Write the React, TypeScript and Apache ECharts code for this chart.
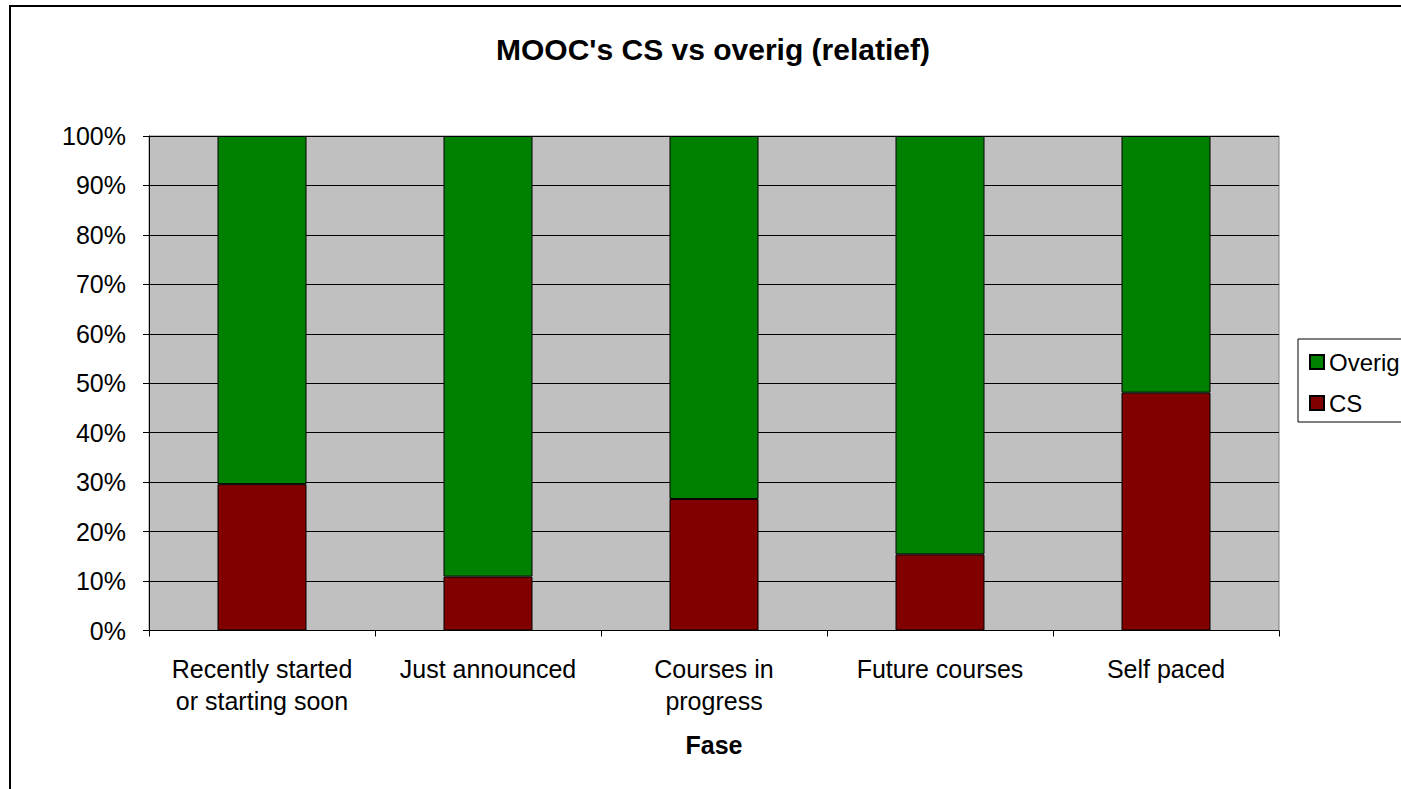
import React, { useEffect, useRef } from "react";
import * as echarts from "echarts";

const categories = [
  "Recently started\nor starting soon",
  "Just announced",
  "Courses in\nprogress",
  "Future courses",
  "Self paced",
];
const csValues = [29.6, 10.9, 26.6, 15.4, 48.1];
const overigValues = [70.4, 89.1, 73.4, 84.6, 51.9];
const titleText = "MOOC's CS vs overig (relatief)";
const xAxisName = "Fase";

const FONT = "'Liberation Sans', Arial, sans-serif";

export default function App() {
  const ref = useRef<HTMLDivElement>(null);
  useEffect(() => {
    if (!ref.current) return;
    const chart = echarts.init(ref.current, undefined, { renderer: "svg" });
    chart.setOption({
      animation: false,
      backgroundColor: "#ffffff",
      textStyle: { fontFamily: FONT, color: "#000" },
      graphic: [
        {
          type: "rect",
          shape: { x: 10, y: 6, width: 1420, height: 800 },
          style: { fill: "none", stroke: "#000", lineWidth: 2 },
          z: 100,
          silent: true,
        },
        {
          type: "text",
          x: 713,
          y: 49.5,
          style: {
            text: titleText,
            fontFamily: FONT,
            fontSize: 30,
            fontWeight: "bold",
            fill: "#000",
            align: "center",
            verticalAlign: "middle",
          },
        },
      ],
      legend: {
        orient: "vertical",
        left: 1298,
        top: 339,
        padding: [11, 30, 7, 11],
        itemGap: 17,
        itemWidth: 14,
        itemHeight: 14,
        icon: "rect",
        borderColor: "#000",
        borderWidth: 1,
        backgroundColor: "#fff",
        data: ["Overig", "CS"],
        textStyle: { fontFamily: FONT, fontSize: 24, color: "#000" },
      },
      grid: {
        left: 149,
        right: 122,
        top: 136,
        bottom: 158.5,
        show: true,
        backgroundColor: "#C0C0C0",
        borderColor: "#808080",
        borderWidth: 1,
        containLabel: false,
      },
      xAxis: {
        type: "category",
        data: categories,
        name: xAxisName,
        nameLocation: "middle",
        nameGap: 102,
        nameTextStyle: { fontFamily: FONT, fontSize: 25, fontWeight: "bold", color: "#000" },
        axisLine: { show: true, lineStyle: { color: "#000", width: 1 } },
        axisTick: { show: true, length: 6, inside: false, lineStyle: { color: "#000" } },
        axisLabel: {
          fontFamily: FONT,
          fontSize: 25,
          color: "#000",
          margin: 22,
          lineHeight: 32,
          interval: 0,
        },
      },
      yAxis: {
        type: "value",
        min: 0,
        max: 100,
        interval: 10,
        axisLine: { show: true, lineStyle: { color: "#000", width: 1 } },
        axisTick: { show: true, length: 6, inside: false, lineStyle: { color: "#000" } },
        splitLine: { show: true, lineStyle: { color: "#000", width: 1 } },
        axisLabel: {
          fontFamily: FONT,
          fontSize: 25,
          color: "#000",
          margin: 23,
          formatter: "{value}%",
        },
      },
      series: [
        {
          name: "CS",
          type: "bar",
          stack: "total",
          data: csValues,
          barWidth: 89,
          itemStyle: { color: "#800000", borderColor: "#000", borderWidth: 1 },
        },
        {
          name: "Overig",
          type: "bar",
          stack: "total",
          data: overigValues,
          barWidth: 89,
          itemStyle: { color: "#008000", borderColor: "#000", borderWidth: 1 },
        },
      ],
    });
    return () => chart.dispose();
  }, []);
  return (
    <div
      ref={ref}
      style={{ position: "fixed", left: 0, top: 0, width: 1401, height: 789 }}
    />
  );
}
